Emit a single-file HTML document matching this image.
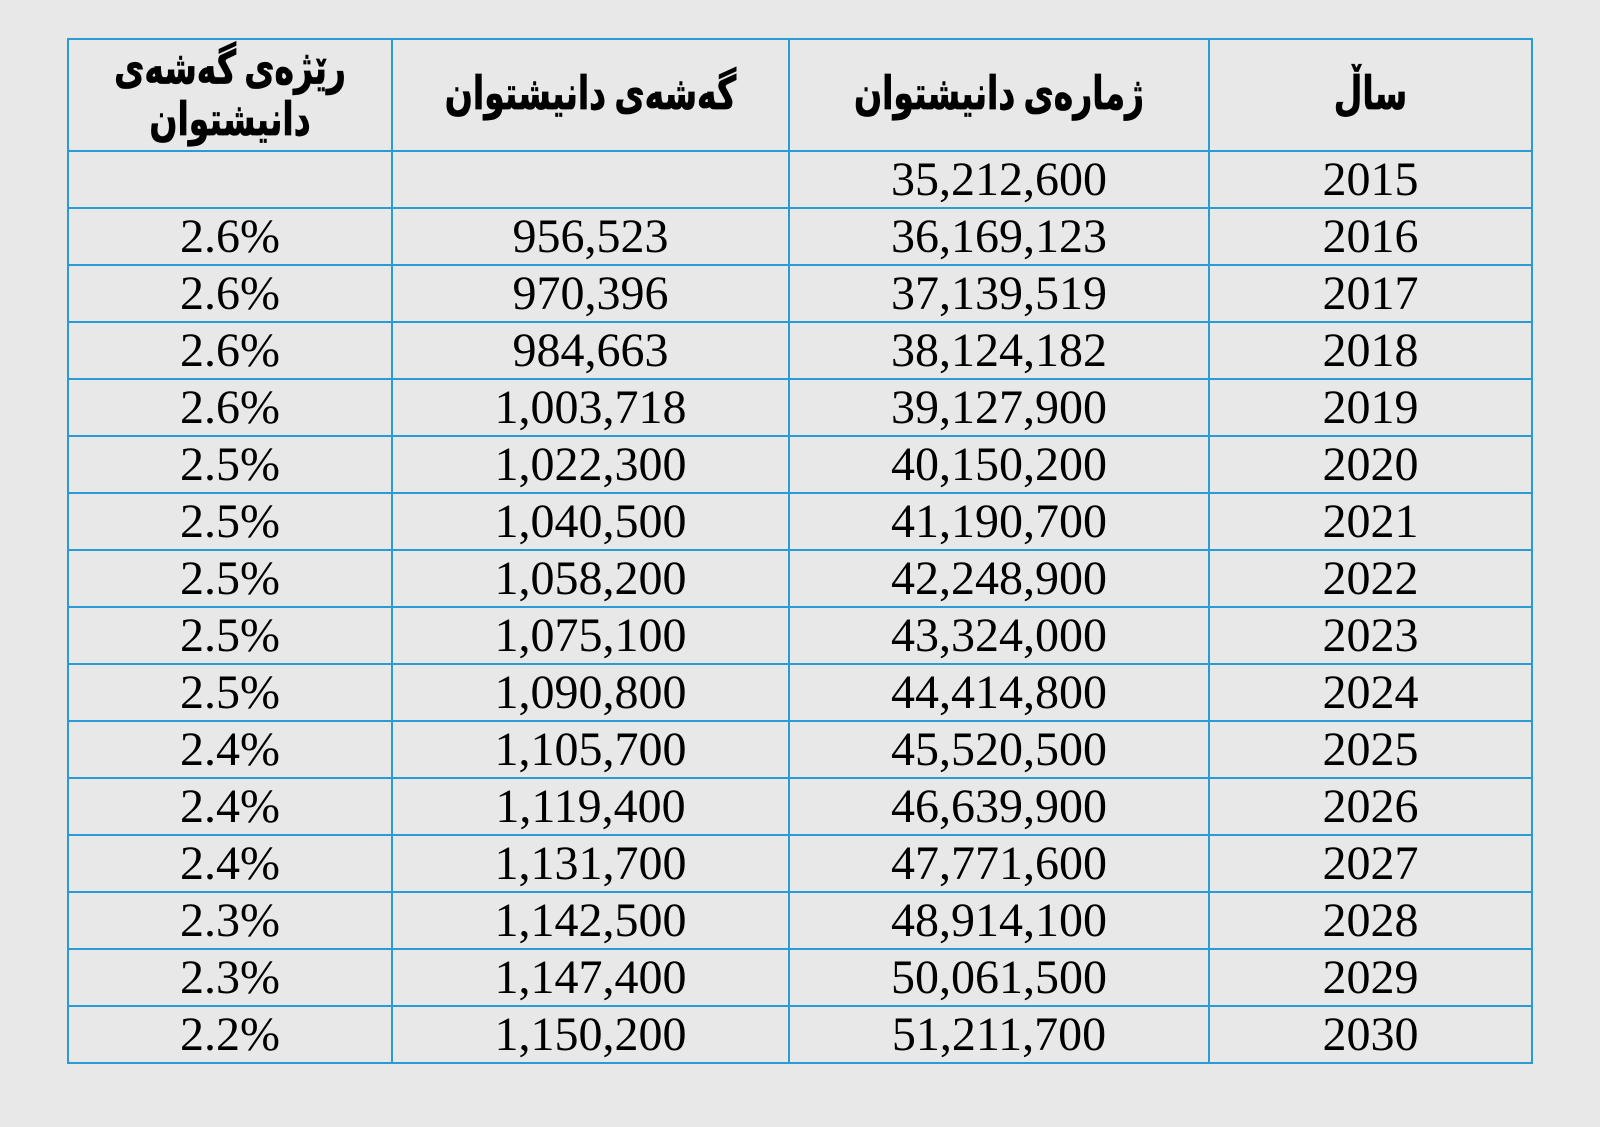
<!DOCTYPE html>
<html>
<head>
<meta charset="utf-8">
<style>
html,body{margin:0;padding:0;}
body{width:1600px;height:1127px;background:#e8e8e9;position:relative;overflow:hidden;}
.h{position:absolute;height:2px;background:#2a9bd5;left:67px;width:1466px;}
.v{position:absolute;width:2px;background:#2a9bd5;top:38px;height:1026px;}
.c{position:absolute;display:flex;align-items:center;justify-content:center;text-align:center;
 font-family:"Liberation Serif",serif;font-size:48px;color:#000;line-height:1;}
.hd{font-family:"Liberation Serif","DejaVu Sans",serif;font-weight:bold;font-size:33px;direction:rtl;}
.hd span{display:inline-block;transform:scaleY(1.4);line-height:34px;-webkit-text-stroke:0.6px #000;}
.hd span.two{line-height:37px;}
</style>
</head>
<body>
<div class="h" style="top:38px"></div>
<div class="h" style="top:150px"></div>
<div class="h" style="top:207px"></div>
<div class="h" style="top:264px"></div>
<div class="h" style="top:321px"></div>
<div class="h" style="top:378px"></div>
<div class="h" style="top:435px"></div>
<div class="h" style="top:492px"></div>
<div class="h" style="top:549px"></div>
<div class="h" style="top:606px"></div>
<div class="h" style="top:663px"></div>
<div class="h" style="top:720px"></div>
<div class="h" style="top:777px"></div>
<div class="h" style="top:834px"></div>
<div class="h" style="top:891px"></div>
<div class="h" style="top:948px"></div>
<div class="h" style="top:1005px"></div>
<div class="h" style="top:1062px"></div>
<div class="v" style="left:67px"></div>
<div class="v" style="left:391px"></div>
<div class="v" style="left:788px"></div>
<div class="v" style="left:1208px"></div>
<div class="v" style="left:1531px"></div>

<!-- headers -->
<div class="c hd" style="left:69px;width:322px;top:41px;height:110px;"><span class="two">رێژەی گەشەی<br>دانیشتوان</span></div>
<div class="c hd" style="left:393px;width:395px;top:40px;height:110px;"><span>گەشەی دانیشتوان</span></div>
<div class="c hd" style="left:790px;width:418px;top:40px;height:110px;"><span>ژمارەی دانیشتوان</span></div>
<div class="c hd" style="left:1210px;width:321px;top:40px;height:110px;"><span>ساڵ</span></div>

<!-- data rows -->
<div class="c" style="left:1210px;width:321px;top:152px;height:55px;">2015</div>
<div class="c" style="left:790px;width:418px;top:152px;height:55px;">35,212,600</div>

<div class="c" style="left:69px;width:322px;top:209px;height:55px;">2.6%</div>
<div class="c" style="left:393px;width:395px;top:209px;height:55px;">956,523</div>
<div class="c" style="left:790px;width:418px;top:209px;height:55px;">36,169,123</div>
<div class="c" style="left:1210px;width:321px;top:209px;height:55px;">2016</div>

<div class="c" style="left:69px;width:322px;top:266px;height:55px;">2.6%</div>
<div class="c" style="left:393px;width:395px;top:266px;height:55px;">970,396</div>
<div class="c" style="left:790px;width:418px;top:266px;height:55px;">37,139,519</div>
<div class="c" style="left:1210px;width:321px;top:266px;height:55px;">2017</div>

<div class="c" style="left:69px;width:322px;top:323px;height:55px;">2.6%</div>
<div class="c" style="left:393px;width:395px;top:323px;height:55px;">984,663</div>
<div class="c" style="left:790px;width:418px;top:323px;height:55px;">38,124,182</div>
<div class="c" style="left:1210px;width:321px;top:323px;height:55px;">2018</div>

<div class="c" style="left:69px;width:322px;top:380px;height:55px;">2.6%</div>
<div class="c" style="left:393px;width:395px;top:380px;height:55px;">1,003,718</div>
<div class="c" style="left:790px;width:418px;top:380px;height:55px;">39,127,900</div>
<div class="c" style="left:1210px;width:321px;top:380px;height:55px;">2019</div>

<div class="c" style="left:69px;width:322px;top:437px;height:55px;">2.5%</div>
<div class="c" style="left:393px;width:395px;top:437px;height:55px;">1,022,300</div>
<div class="c" style="left:790px;width:418px;top:437px;height:55px;">40,150,200</div>
<div class="c" style="left:1210px;width:321px;top:437px;height:55px;">2020</div>

<div class="c" style="left:69px;width:322px;top:494px;height:55px;">2.5%</div>
<div class="c" style="left:393px;width:395px;top:494px;height:55px;">1,040,500</div>
<div class="c" style="left:790px;width:418px;top:494px;height:55px;">41,190,700</div>
<div class="c" style="left:1210px;width:321px;top:494px;height:55px;">2021</div>

<div class="c" style="left:69px;width:322px;top:551px;height:55px;">2.5%</div>
<div class="c" style="left:393px;width:395px;top:551px;height:55px;">1,058,200</div>
<div class="c" style="left:790px;width:418px;top:551px;height:55px;">42,248,900</div>
<div class="c" style="left:1210px;width:321px;top:551px;height:55px;">2022</div>

<div class="c" style="left:69px;width:322px;top:608px;height:55px;">2.5%</div>
<div class="c" style="left:393px;width:395px;top:608px;height:55px;">1,075,100</div>
<div class="c" style="left:790px;width:418px;top:608px;height:55px;">43,324,000</div>
<div class="c" style="left:1210px;width:321px;top:608px;height:55px;">2023</div>

<div class="c" style="left:69px;width:322px;top:665px;height:55px;">2.5%</div>
<div class="c" style="left:393px;width:395px;top:665px;height:55px;">1,090,800</div>
<div class="c" style="left:790px;width:418px;top:665px;height:55px;">44,414,800</div>
<div class="c" style="left:1210px;width:321px;top:665px;height:55px;">2024</div>

<div class="c" style="left:69px;width:322px;top:722px;height:55px;">2.4%</div>
<div class="c" style="left:393px;width:395px;top:722px;height:55px;">1,105,700</div>
<div class="c" style="left:790px;width:418px;top:722px;height:55px;">45,520,500</div>
<div class="c" style="left:1210px;width:321px;top:722px;height:55px;">2025</div>

<div class="c" style="left:69px;width:322px;top:779px;height:55px;">2.4%</div>
<div class="c" style="left:393px;width:395px;top:779px;height:55px;">1,119,400</div>
<div class="c" style="left:790px;width:418px;top:779px;height:55px;">46,639,900</div>
<div class="c" style="left:1210px;width:321px;top:779px;height:55px;">2026</div>

<div class="c" style="left:69px;width:322px;top:836px;height:55px;">2.4%</div>
<div class="c" style="left:393px;width:395px;top:836px;height:55px;">1,131,700</div>
<div class="c" style="left:790px;width:418px;top:836px;height:55px;">47,771,600</div>
<div class="c" style="left:1210px;width:321px;top:836px;height:55px;">2027</div>

<div class="c" style="left:69px;width:322px;top:893px;height:55px;">2.3%</div>
<div class="c" style="left:393px;width:395px;top:893px;height:55px;">1,142,500</div>
<div class="c" style="left:790px;width:418px;top:893px;height:55px;">48,914,100</div>
<div class="c" style="left:1210px;width:321px;top:893px;height:55px;">2028</div>

<div class="c" style="left:69px;width:322px;top:950px;height:55px;">2.3%</div>
<div class="c" style="left:393px;width:395px;top:950px;height:55px;">1,147,400</div>
<div class="c" style="left:790px;width:418px;top:950px;height:55px;">50,061,500</div>
<div class="c" style="left:1210px;width:321px;top:950px;height:55px;">2029</div>

<div class="c" style="left:69px;width:322px;top:1007px;height:55px;">2.2%</div>
<div class="c" style="left:393px;width:395px;top:1007px;height:55px;">1,150,200</div>
<div class="c" style="left:790px;width:418px;top:1007px;height:55px;">51,211,700</div>
<div class="c" style="left:1210px;width:321px;top:1007px;height:55px;">2030</div>
</body>
</html>
